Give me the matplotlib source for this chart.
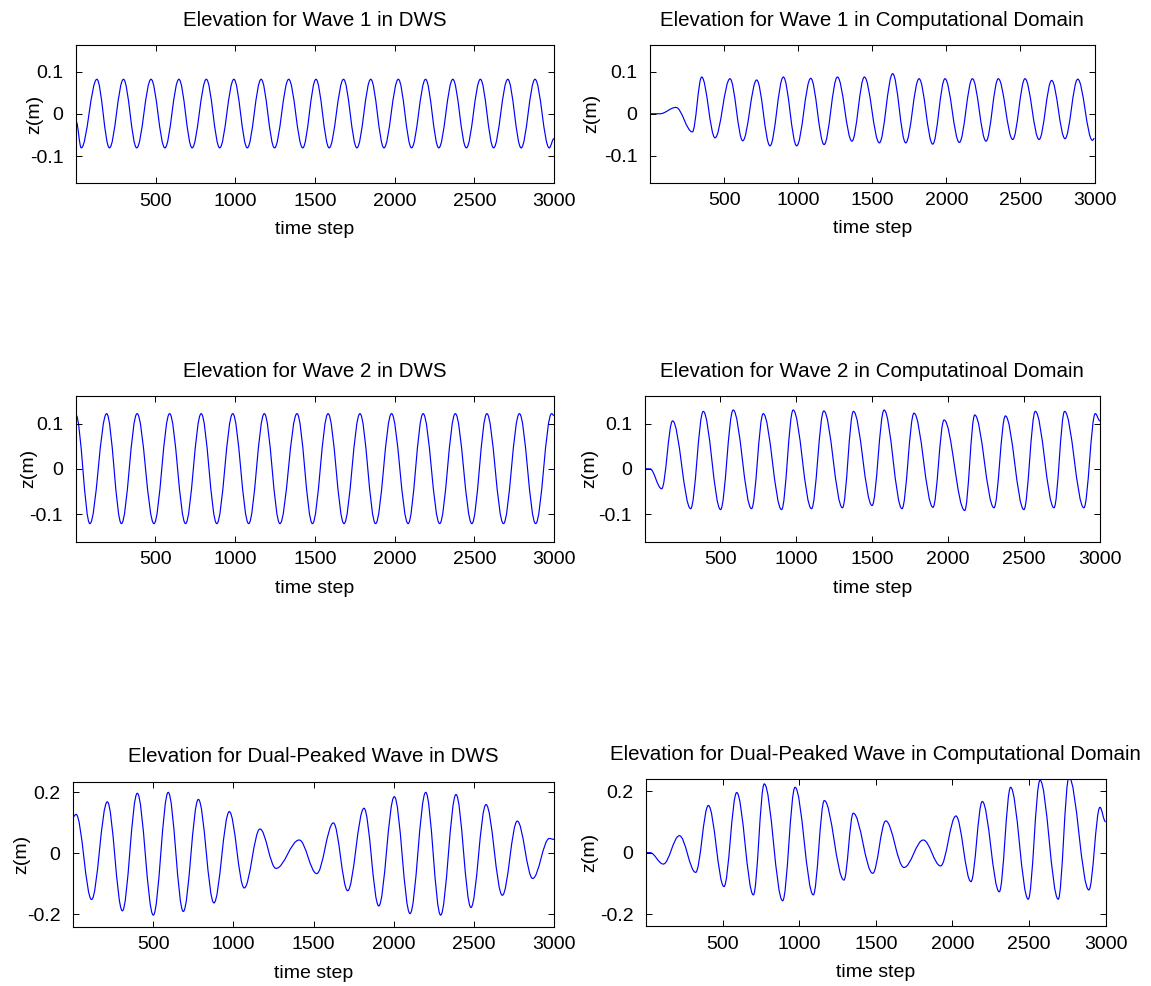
import matplotlib
matplotlib.use("Agg")
import matplotlib.pyplot as plt
from matplotlib.path import Path
from matplotlib.patches import PathPatch

# ---- data: extrema (time step, elevation) ----
w1_dws_t = [1, 33, 131, 210, 298, 381, 471, 558, 646, 729, 818, 902, 991, 1075, 1162, 1246,
            1335, 1423, 1506, 1589, 1679, 1763, 1850, 1933, 2023, 2106, 2194, 2277, 2365,
            2450, 2538, 2621, 2710, 2794, 2881, 2970, 3000]
w1_dws_z = [-0.018, -0.080, 0.082, -0.080, 0.082, -0.080, 0.082, -0.080, 0.082, -0.080, 0.082,
            -0.080, 0.082, -0.080, 0.082, -0.080, 0.082, -0.080, 0.082, -0.080, 0.082, -0.080,
            0.082, -0.080, 0.082, -0.080, 0.082, -0.080, 0.082, -0.080, 0.082, -0.080, 0.082,
            -0.080, 0.082, -0.080, -0.058]

w1_cd_t = [1, 67, 175, 286, 349, 439, 540, 626, 720, 810, 900, 990, 1085, 1175, 1265, 1363,
           1447, 1548, 1638, 1726, 1816, 1908, 1991, 2088, 2176, 2268, 2351, 2448, 2531, 2626,
           2711, 2801, 2887, 2986, 3000]
w1_cd_z = [0.0, 0.0, 0.015, -0.043, 0.087, -0.057, 0.083, -0.064, 0.080, -0.076, 0.087, -0.076,
           0.084, -0.073, 0.087, -0.065, 0.087, -0.069, 0.095, -0.069, 0.083, -0.072, 0.083,
           -0.068, 0.083, -0.065, 0.083, -0.061, 0.083, -0.061, 0.079, -0.059, 0.082, -0.063,
           -0.058]

w2_dws_t = [1, 89, 194, 287, 385, 491, 589, 689, 787, 885, 985, 1085, 1183, 1281, 1388, 1485,
            1583, 1683, 1783, 1881, 1981, 2085, 2179, 2283, 2381, 2485, 2579, 2683, 2783, 2885,
            2985, 3000]
w2_dws_z = [0.120, -0.121, 0.122, -0.121, 0.122, -0.121, 0.122, -0.121, 0.122, -0.121, 0.122,
            -0.121, 0.122, -0.121, 0.122, -0.121, 0.122, -0.121, 0.122, -0.121, 0.122, -0.121,
            0.122, -0.121, 0.122, -0.121, 0.122, -0.121, 0.122, -0.121, 0.122, 0.118]

w2_cd_t = [1, 36, 113, 185, 304, 387, 501, 584, 705, 782, 903, 979, 1100, 1181, 1304, 1376,
           1499, 1578, 1696, 1775, 1900, 1973, 2109, 2175, 2302, 2377, 2499, 2574, 2697, 2767,
           2894, 2969, 3000]
w2_cd_z = [0.0, 0.0, -0.044, 0.106, -0.088, 0.127, -0.090, 0.130, -0.088, 0.122, -0.090, 0.130,
           -0.088, 0.128, -0.086, 0.127, -0.081, 0.130, -0.088, 0.123, -0.085, 0.108, -0.092,
           0.119, -0.086, 0.117, -0.090, 0.127, -0.086, 0.127, -0.086, 0.122, 0.106]

dp_dws_t = [1, 19, 116, 214, 308, 401, 501, 594, 688, 782, 879, 975, 1068, 1166, 1266, 1411,
            1520, 1624, 1713, 1815, 1907, 2004, 2102, 2200, 2293, 2389, 2482, 2576, 2678, 2771,
            2867, 2971, 3000]
dp_dws_z = [0.120, 0.128, -0.151, 0.169, -0.188, 0.197, -0.202, 0.200, -0.190, 0.177, -0.162,
            0.137, -0.113, 0.080, -0.049, 0.044, -0.066, 0.100, -0.122, 0.148, -0.172, 0.186,
            -0.197, 0.200, -0.202, 0.193, -0.177, 0.160, -0.137, 0.106, -0.082, 0.049, 0.046]

dp_cd_t = [1, 26, 113, 218, 324, 407, 509, 592, 701, 772, 892, 973, 1092, 1164, 1292, 1353,
           1480, 1565, 1684, 1810, 1923, 2023, 2121, 2195, 2306, 2380, 2495, 2572, 2691, 2761,
           2891, 2963, 3000]
dp_cd_z = [0.0, 0.0, -0.037, 0.055, -0.064, 0.153, -0.110, 0.195, -0.137, 0.223, -0.156, 0.212,
           -0.137, 0.169, -0.089, 0.128, -0.067, 0.103, -0.048, 0.041, -0.043, 0.119, -0.094,
           0.166, -0.127, 0.212, -0.151, 0.235, -0.151, 0.245, -0.121, 0.147, 0.100]

titles = ["Elevation for Wave 1 in DWS",
          "Elevation for Wave 1 in Computational Domain",
          "Elevation for Wave 2 in DWS",
          "Elevation for Wave 2 in Computatinoal Domain",
          "Elevation for Dual-Peaked Wave in DWS",
          "Elevation for Dual-Peaked Wave in Computational Domain"]
x_ticks = [500, 1000, 1500, 2000, 2500, 3000]
y_ticks_small = [-0.1, 0, 0.1]
y_ticks_large = [-0.2, 0, 0.2]

series = [(w1_dws_t, w1_dws_z), (w1_cd_t, w1_cd_z), (w2_dws_t, w2_dws_z),
          (w2_cd_t, w2_cd_z), (dp_dws_t, dp_dws_z), (dp_cd_t, dp_cd_z)]

# ---- style ----
plt.rcParams['font.family'] = ['Liberation Sans', 'DejaVu Sans']
plt.rcParams['font.size'] = 14
plt.rcParams['axes.unicode_minus'] = False
for ax_ in ('xtick', 'ytick'):
    plt.rcParams[f'{ax_}.direction'] = 'in'
    plt.rcParams[f'{ax_}.major.size'] = 4
    plt.rcParams[f'{ax_}.major.width'] = 0.7
plt.rcParams['xtick.top'] = True
plt.rcParams['ytick.right'] = True

W, H = 1151, 986
fig = plt.figure(figsize=(W / 100, H / 100), dpi=100)

boxes = [(76, 45, 554, 183), (650, 45, 1094.5, 182.5),
         (75.7, 396, 554, 541.7), (644.5, 396, 1100, 541.7),
         (73, 781.7, 554, 926.7), (646, 779.3, 1105.6, 926)]
ylims = [(-0.163, 0.163), (-0.163, 0.163), (-0.161, 0.161), (-0.161, 0.161),
         (-0.24, 0.235), (-0.238, 0.238)]
# y-label right edge offset from the axes' left edge, in pixels
ylabel_off = [-33, -50, -38, -46, -43, -48]

K = 0.3634  # Bezier handle fraction (cosine-like shape between extrema)


def wave_path(t, z):
    verts = [(t[0], z[0])]
    codes = [Path.MOVETO]
    for i in range(1, len(t)):
        d = t[i] - t[i - 1]
        verts += [(t[i - 1] + K * d, z[i - 1]), (t[i] - K * d, z[i]), (t[i], z[i])]
        codes += [Path.CURVE4] * 3
    return Path(verts, codes)


for i, ((l, tp, r, b), (t, z), title, yl) in enumerate(zip(boxes, series, titles, ylims)):
    ax = fig.add_axes([l / W, 1 - b / H, (r - l) / W, (b - tp) / H])
    ax.add_patch(PathPatch(wave_path(t, z), facecolor='none', edgecolor='#0000ff',
                           linewidth=0.85, transform=ax.transData))
    ax.set_xlim(0, 3000)
    ax.set_ylim(*yl)
    ax.set_xticks(x_ticks)
    ax.set_xticklabels([str(v) for v in x_ticks])
    yt = y_ticks_large if i >= 4 else y_ticks_small
    ax.set_yticks(yt)
    ax.set_yticklabels(['%g' % v for v in yt])
    ax.tick_params(axis='x', labelsize=14, pad=7)
    ax.tick_params(axis='y', labelsize=14, pad=9)
    for s in ax.spines.values():
        s.set_linewidth(0.8)
    ax.set_title(title, fontsize=14.8, pad=14)
    ax.set_xlabel('time step', fontsize=14, labelpad=8)
    ax.set_ylabel('z(m)', fontsize=14)
    ax.yaxis.set_label_coords(ylabel_off[i] / (r - l), 0.5)

fig.savefig('out.png', dpi=100)
